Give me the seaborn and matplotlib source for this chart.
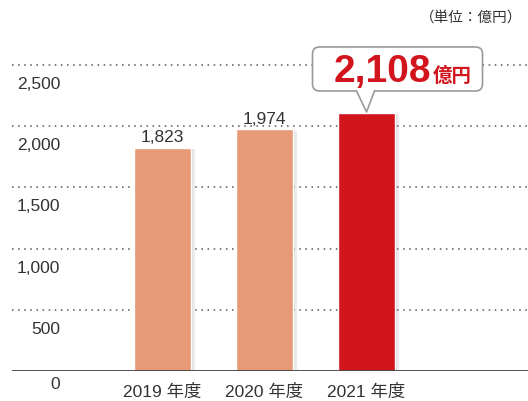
import matplotlib
matplotlib.use("Agg")
import matplotlib.pyplot as plt
import matplotlib.patheffects as pe
from matplotlib.patches import FancyBboxPatch, Polygon
from matplotlib.lines import Line2D
from matplotlib.transforms import IdentityTransform
import seaborn as sns

# data
years = ["2019 年度", "2020 年度", "2021 年度"]
sales = [1823, 1974, 2108]
bar_colors = ["#E69A78", "#E69A78", "#D2141D"]
yticks = [0, 500, 1000, 1500, 2000, 2500]
unit_label = "（単位：億円）"
highlight_unit = "億円"

sns.set_style("white")
plt.rcParams["font.family"] = ["Liberation Sans", "Noto Sans CJK JP"]

W, H = 528, 401
fig = plt.figure(figsize=(W / 100, H / 100), dpi=100)
ax = fig.add_axes([12 / W, 30 / H, (W - 12) / W, (H - 30) / H])

sns.barplot(x=years, y=sales, hue=years, palette=bar_colors, legend=False,
            width=0.56, saturation=1, ax=ax, zorder=2)

ax.set_xlim(-1.475, 3.583)
ax.set_ylim(0, 3031)

# soft shadow on the right of each bar
for bar in ax.patches:
    bar.set_path_effects([pe.SimplePatchShadow(offset=(3, -1), shadow_rgbFace="#999", alpha=0.18),
                          pe.SimplePatchShadow(offset=(1.5, -0.5), shadow_rgbFace="#999", alpha=0.18),
                          pe.Normal()])

# dotted gridlines and solid baseline
for v in yticks[1:]:
    ax.axhline(v, color="#555", lw=1.1, ls=(0, (1, 3)), zorder=0)
ax.axhline(0, color="#444", lw=1.3, zorder=3)

for s in ax.spines.values():
    s.set_visible(False)
ax.set_yticks([])
ax.set_ylabel("")
ax.set_xlabel("")
ax.tick_params(axis="x", length=0, pad=9, labelsize=12.5, labelcolor="#333")

# y labels sitting below each gridline
for v in yticks:
    ax.annotate(f"{v:,}", xy=(48 / (W - 12), v), xycoords=ax.get_yaxis_transform(),
                xytext=(0, -12 if v else -6), textcoords="offset pixels",
                ha="right", va="top", fontsize=12.5, color="#333")

# value labels on first two bars
for cont in ax.containers[:2]:
    ax.bar_label(cont, labels=[f"{int(v):,}" for v in cont.datavalues], padding=2,
                 fontsize=12.5, color="#333")

# callout for the last bar
tx, ty = ax.transData.transform((2, sales[2]))
ty += 1
box = FancyBboxPatch((tx - 54, ty + 21), 170, 44,
                     boxstyle="round,pad=0,rounding_size=7",
                     transform=IdentityTransform(), fc="white", ec="#9a9a9a", lw=1.2, zorder=5)
fig.add_artist(box)
fig.add_artist(Polygon([(tx - 10, ty + 22.5), (tx, ty), (tx + 8, ty + 22.5)], closed=True,
                       transform=IdentityTransform(), fc="white", ec="none", zorder=6))
fig.add_artist(Line2D([tx - 10, tx, tx + 8], [ty + 21, ty, ty + 21], transform=IdentityTransform(),
                      color="#9a9a9a", lw=1.2, zorder=7))
fig.text(tx + 65, ty + 30, f"{sales[2]:,}", transform=IdentityTransform(), ha="right",
         va="baseline", fontsize=28, fontweight="bold", color="#D2141D", zorder=8)
fig.text(tx + 66, ty + 30, highlight_unit, transform=IdentityTransform(), ha="left",
         va="baseline", fontsize=14, fontweight="bold", color="#D2141D", zorder=8)

fig.text(522 / W, 1 - 18 / H, unit_label, ha="right", va="center", fontsize=10.5, color="#333")

fig.savefig("out.png", dpi=100)
